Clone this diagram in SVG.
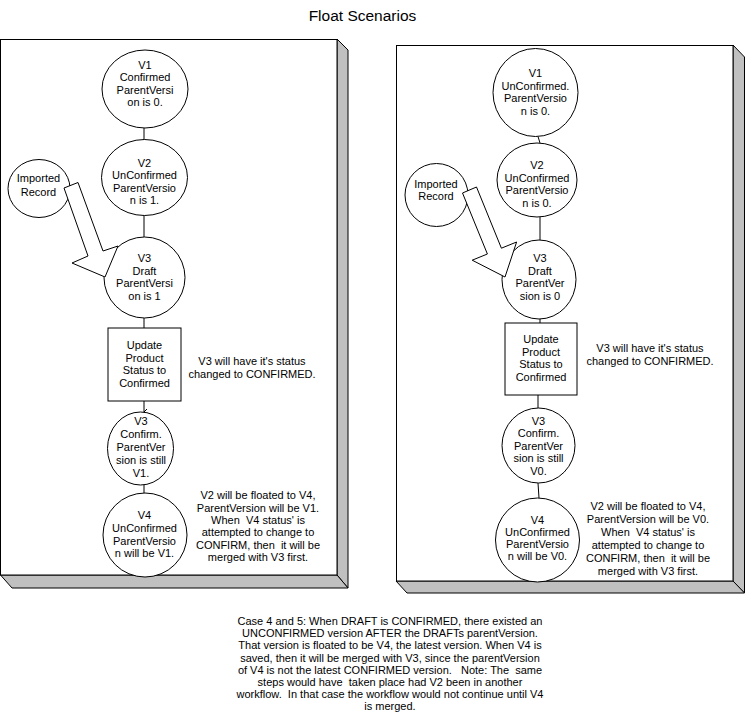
<svg xmlns="http://www.w3.org/2000/svg" width="745" height="724" viewBox="0 0 745 724">
<defs>
<marker id="tick" viewBox="0 0 8 8" refX="4" refY="7.5" markerWidth="8" markerHeight="8" markerUnits="userSpaceOnUse" orient="auto-start-reverse">
<path d="M1,4.5 L4,7.5 L7,4.5" fill="none" stroke="#000" stroke-width="1"/>
</marker>
</defs>
<style>
.front{fill:#fff;stroke:#000;stroke-width:1}
.side{fill:#c0c0c0;stroke:#000;stroke-width:1}
.node{fill:#fff;stroke:#000;stroke-width:1}
.big{fill:#fff;stroke:#000;stroke-width:1;stroke-linejoin:miter}
.con{fill:none;stroke:#000;stroke-width:1}
text{font-family:"Liberation Sans",Arial,sans-serif;font-size:11px;fill:#000;text-anchor:middle}
.title{font-size:15.5px}
</style>
<rect width="745" height="724" fill="#fff"/>
<text class="title" x="362.5" y="21">Float Scenarios</text>

<g id="panel-left">
<polygon class="side" points="337,39 348,50 348,588 337,575"/>
<polygon class="side" points="0.5,575 337,575 348,588 12,588"/>
<rect class="front" x="0.5" y="39.5" width="336.5" height="535.5"/>
</g>
<g id="panel-right">
<polygon class="side" points="733,45 744.5,57 744.5,593 733,581"/>
<polygon class="side" points="396,581 733,581 744.5,593 407,593"/>
<rect class="front" x="396.5" y="45.5" width="336.5" height="535.5"/>
</g>

<g id="connectors">
<line class="con" x1="144" y1="128" x2="144" y2="140"/>
<line class="con" x1="144" y1="215" x2="144" y2="237"/>
<line class="con" x1="144" y1="318" x2="144" y2="328"/>
<line class="con" x1="144" y1="401" x2="144" y2="412" marker-end="url(#tick)"/>
<line class="con" x1="144" y1="485" x2="144" y2="493"/>
<line class="con" x1="538" y1="136.5" x2="540" y2="143"/>
<line class="con" x1="540" y1="217" x2="540" y2="240"/>
<line class="con" x1="540" y1="319" x2="540" y2="323"/>
<line class="con" x1="538" y1="395" x2="538" y2="408"/>
<line class="con" x1="538" y1="483" x2="539" y2="498"/>
</g>

<g id="L-V1">
<ellipse class="node" cx="145" cy="89" rx="43" ry="39"/>
<text x="145" y="68.5">V1</text>
<text x="145" y="81">Confirmed</text>
<text x="145" y="93.5">ParentVersi</text>
<text x="145" y="106">on is 0.</text>
</g>
<g id="L-V2">
<ellipse class="node" cx="144.5" cy="177.5" rx="43" ry="38"/>
<text x="144.5" y="166.5">V2</text>
<text x="144.5" y="179">UnConfirmed</text>
<text x="144.5" y="191.5">ParentVersio</text>
<text x="144.5" y="204">n is 1.</text>
</g>
<g id="L-Imported">
<ellipse class="node" cx="39" cy="188.5" rx="31" ry="29"/>
<text x="38.5" y="182">Imported</text>
<text x="38.5" y="195.5">Record</text>
</g>
<g id="L-V3">
<circle class="node" cx="144.5" cy="277.5" r="40.5"/>
<text x="144.5" y="262">V3</text>
<text x="144.5" y="274.5">Draft</text>
<text x="144.5" y="287">ParentVersi</text>
<text x="144.5" y="299.5">on is 1</text>
</g>
<g id="L-arrow">
<polygon class="big" points="64,188 78,182.5 103,251 118,246 105,277 72,263 88,256"/>
</g>
<g id="L-Update">
<rect class="node" x="108" y="328" width="73" height="73"/>
<text x="144.5" y="349">Update</text>
<text x="144.5" y="361.5">Product</text>
<text x="144.5" y="374">Status to</text>
<text x="144.5" y="386.5">Confirmed</text>
</g>
<g id="L-note1">
<text x="252" y="365">V3 will have it's status</text>
<text x="252" y="378">changed to CONFIRMED.</text>
</g>
<g id="L-V3c">
<ellipse class="node" cx="140.5" cy="448.5" rx="33" ry="36.5"/>
<text x="141" y="425">V3</text>
<text x="141" y="438">Confirm.</text>
<text x="141" y="451">ParentVer</text>
<text x="141" y="464">sion is still</text>
<text x="141" y="477">V1.</text>
</g>
<g id="L-V4">
<circle class="node" cx="145" cy="535" r="42"/>
<text x="144.5" y="519">V4</text>
<text x="144.5" y="532">UnConfirmed</text>
<text x="144.5" y="544.5">ParentVersio</text>
<text x="144.5" y="557">n will be V1.</text>
</g>
<g id="L-note2">
<text x="258" y="499">V2 will be floated to V4,</text>
<text x="258" y="511.5">ParentVersion will be V1.</text>
<text x="258" y="524" xml:space="preserve">When  V4 status' is</text>
<text x="258" y="536">attempted to change to</text>
<text x="258" y="548.5" xml:space="preserve">CONFIRM, then  it will be</text>
<text x="258" y="560.5">merged with V3 first.</text>
</g>

<g id="R-V1">
<ellipse class="node" cx="535.5" cy="92.5" rx="42.5" ry="44"/>
<text x="535.5" y="77">V1</text>
<text x="535.5" y="89.5">UnConfirmed.</text>
<text x="535.5" y="102">ParentVersio</text>
<text x="535.5" y="114.5">n is 0.</text>
</g>
<g id="R-V2">
<ellipse class="node" cx="537" cy="180" rx="40" ry="37"/>
<text x="537" y="169">V2</text>
<text x="537" y="181.5">UnConfirmed</text>
<text x="537" y="194">ParentVersio</text>
<text x="537" y="206.5">n is 0.</text>
</g>
<g id="R-Imported">
<circle class="node" cx="436.5" cy="195" r="31.5"/>
<text x="436" y="188">Imported</text>
<text x="436" y="200">Record</text>
</g>
<g id="R-V3">
<ellipse class="node" cx="539" cy="279.5" rx="37" ry="39.5"/>
<text x="540" y="262">V3</text>
<text x="540" y="274.5">Draft</text>
<text x="540" y="287">ParentVer</text>
<text x="540" y="299.5">sion is 0</text>
</g>
<g id="R-arrow">
<polygon class="big" points="462.5,193 476.5,187 501.4,248.2 516.6,242 505,277 472.2,260.2 487.4,254"/>
</g>
<g id="R-Update">
<rect class="node" x="505" y="323" width="72" height="72"/>
<text x="541" y="343">Update</text>
<text x="541" y="355.5">Product</text>
<text x="541" y="368">Status to</text>
<text x="541" y="380.5">Confirmed</text>
</g>
<g id="R-note1">
<text x="650" y="352">V3 will have it's status</text>
<text x="650" y="365">changed to CONFIRMED.</text>
</g>
<g id="R-V3c">
<ellipse class="node" cx="538.5" cy="445.5" rx="36.5" ry="37.5"/>
<text x="538.5" y="424.5">V3</text>
<text x="538.5" y="437">Confirm.</text>
<text x="538.5" y="449.5">ParentVer</text>
<text x="538.5" y="462">sion is still</text>
<text x="538.5" y="474.5">V0.</text>
</g>
<g id="R-V4">
<circle class="node" cx="537.5" cy="540" r="42"/>
<text x="537.5" y="524">V4</text>
<text x="537.5" y="536">UnConfirmed</text>
<text x="537.5" y="548">ParentVersio</text>
<text x="537.5" y="560">n will be V0.</text>
</g>
<g id="R-note2">
<text x="648" y="510">V2 will be floated to V4,</text>
<text x="648" y="523">ParentVersion will be V0.</text>
<text x="648" y="536" xml:space="preserve">When  V4 status' is</text>
<text x="648" y="549">attempted to change to</text>
<text x="648" y="562" xml:space="preserve">CONFIRM, then  it will be</text>
<text x="648" y="575">merged with V3 first.</text>
</g>

<g id="caption">
<text x="390" y="625">Case 4 and 5: When DRAFT is CONFIRMED, there existed an</text>
<text x="390" y="637.2">UNCONFIRMED version AFTER the DRAFTs parentVersion.</text>
<text x="390" y="649.4">That version is floated to be V4, the latest version. When V4 is</text>
<text x="390" y="661.6">saved, then it will be merged with V3, since the parentVersion</text>
<text x="390" y="673.8" xml:space="preserve">of V4 is not the latest CONFIRMED version.   Note: The  same</text>
<text x="390" y="686" xml:space="preserve">steps would have  taken place had V2 been in another</text>
<text x="390" y="698.2" xml:space="preserve">workflow.  In that case the workflow would not continue until V4</text>
<text x="390" y="710.4">is merged.</text>
</g>
</svg>
